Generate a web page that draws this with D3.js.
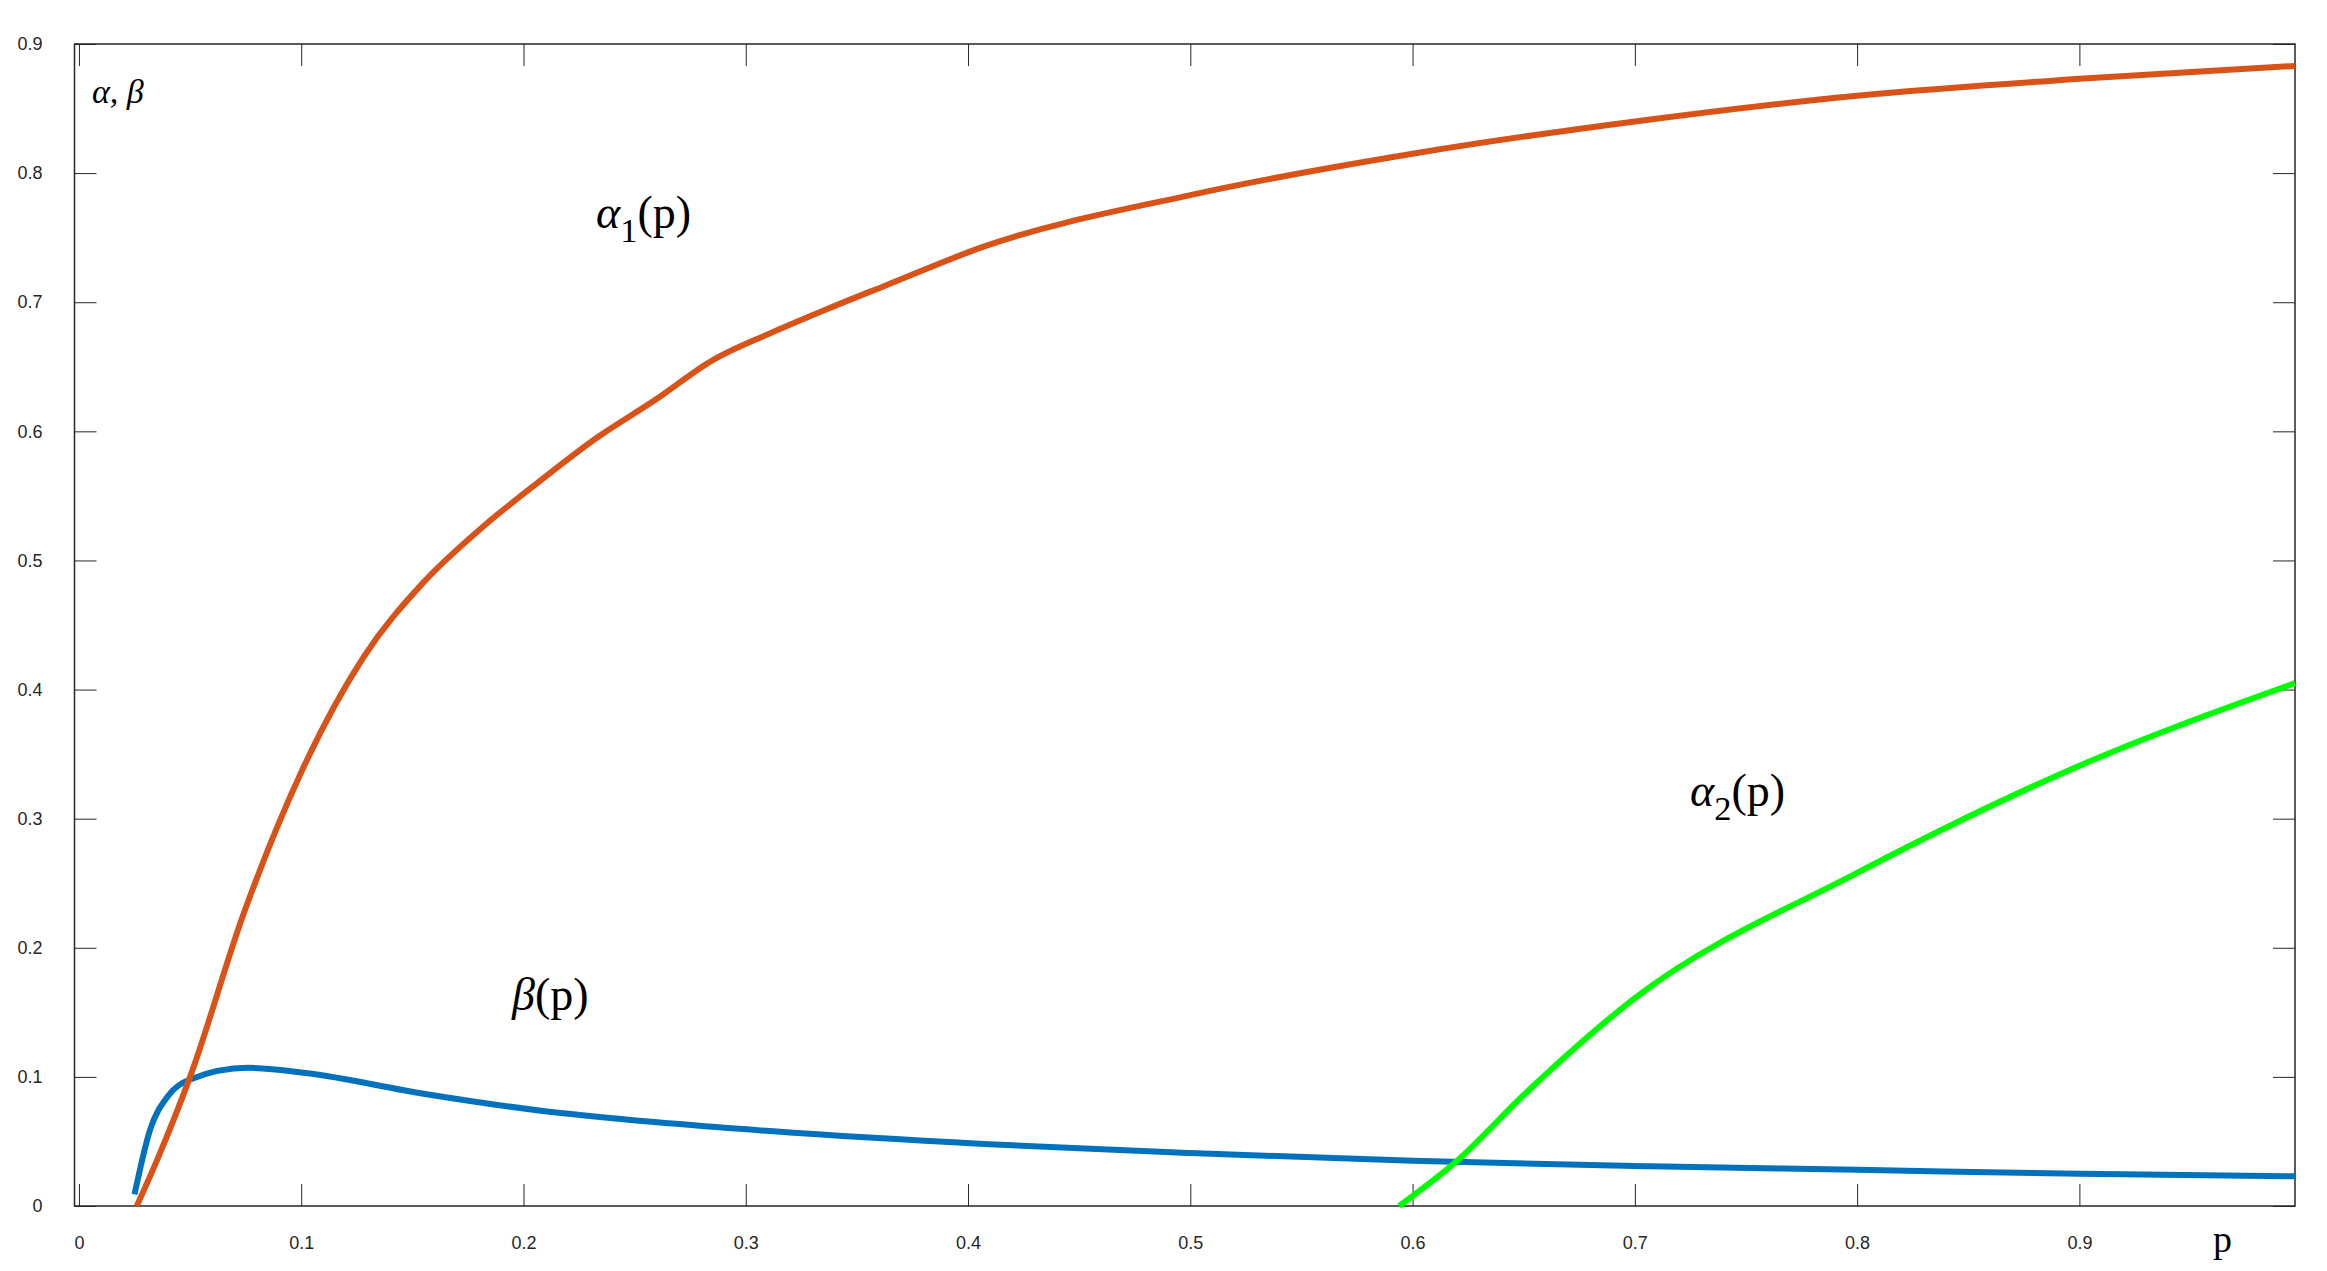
<!DOCTYPE html>
<html><head><meta charset="utf-8">
<script src="https://cdn.jsdelivr.net/npm/d3@7"></script>
<style>body{margin:0;background:#fff}</style>
</head><body><div id="chart"></div>
<script>
var alpha1 = [[0.026,0],[0.035,0.035],[0.05,0.10],[0.074,0.226],[0.1,0.336],[0.128,0.425],[0.155,0.483],[0.181,0.525],[0.207,0.561],[0.233,0.595],[0.259,0.624],[0.285,0.655],[0.311,0.676],[0.337,0.695],[0.363,0.713],[0.407,0.743],[0.5,0.783],[0.6,0.815],[0.7,0.84],[0.8,0.86],[0.9,0.873],[0.997,0.883]];
var beta = [[0.025,0.009],[0.032,0.059],[0.04,0.085],[0.05,0.098],[0.076,0.107],[0.102,0.103],[0.155,0.087],[0.207,0.074],[0.259,0.065],[0.311,0.058],[0.407,0.048],[0.5,0.041],[0.6,0.035],[0.7,0.031],[0.8,0.028],[0.9,0.025],[0.997,0.023]];
var alpha2 = [[0.594,0],[0.62,0.035],[0.65,0.086],[0.7,0.161],[0.8,0.258],[0.9,0.341],[0.997,0.405]];
var xTicks = [0,0.1,0.2,0.3,0.4,0.5,0.6,0.7,0.8,0.9];
var yTicks = [0,0.1,0.2,0.3,0.4,0.5,0.6,0.7,0.8,0.9];

var W = 2327, H = 1271;
var L = 74.5, R = 2295, T = 44, B = 1206;
var svg = d3.select("#chart").append("svg").attr("width", W).attr("height", H);

var x = d3.scaleLinear().domain([-0.002, 0.997]).range([L, R]);
var y = d3.scaleLinear().domain([0, 0.9]).range([B, T]);

function axis(gen, tr) {
  var g = svg.append("g").attr("transform", tr).call(gen);
  g.select(".domain").remove();
  g.selectAll("line").attr("stroke", "#262626");
  g.selectAll("text").attr("fill", "#262626").style("font-family", "Liberation Sans, Arial").style("font-size", "18px");
  return g;
}
axis(d3.axisBottom(x).tickValues(xTicks).tickSize(-22).tickPadding(30).tickFormat(d3.format("")), "translate(0," + B + ")");
axis(d3.axisTop(x).tickValues(xTicks).tickSize(-22).tickFormat(""), "translate(0," + T + ")");
axis(d3.axisLeft(y).tickValues(yTicks).tickSize(-22).tickPadding(32).tickFormat(d3.format("")), "translate(" + L + ",0)");
axis(d3.axisRight(y).tickValues(yTicks).tickSize(-22).tickFormat(""), "translate(" + R + ",0)");

svg.append("rect").attr("x", L).attr("y", T).attr("width", R - L).attr("height", B - T)
  .attr("fill", "none").attr("stroke", "#262626").attr("stroke-width", 1.5);

var line = d3.line().x(function(d) { return x(d[0]); }).y(function(d) { return y(d[1]); }).curve(d3.curveMonotoneX);
[[beta, "#0072BD"], [alpha1, "#D95319"], [alpha2, "#00FF00"]].forEach(function(s) {
  svg.append("path").datum(s[0]).attr("d", line).attr("fill", "none")
    .attr("stroke", s[1]).attr("stroke-width", 6);
});

function label(px, py, main, sub, rest, size) {
  var t = svg.append("text").attr("x", px).attr("y", py)
    .style("font-family", "Liberation Serif, Times New Roman").style("font-size", size + "px").attr("fill", "#000");
  t.append("tspan").style("font-style", "italic").text(main);
  if (sub) t.append("tspan").attr("dy", size * 0.3).style("font-size", (size * 0.75) + "px").text(sub);
  t.append("tspan").attr("dy", sub ? -size * 0.3 : 0).text(rest);
}
label(92, 103, "α, β", "", "", 34);
label(596, 228, "α", "1", "(p)", 46);
label(512, 1010, "β", "", "(p)", 46);
label(1690, 806, "α", "2", "(p)", 46);
svg.append("text").attr("x", 2213).attr("y", 1252).style("font-family", "Liberation Serif, Times New Roman")
  .style("font-size", "38px").text("p");
</script></body></html>
